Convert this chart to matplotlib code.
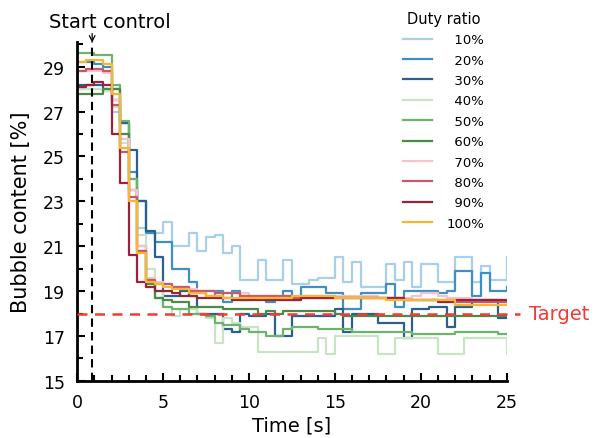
import numpy as np
import matplotlib
matplotlib.use("Agg")
import matplotlib.pyplot as plt
from matplotlib.ticker import MultipleLocator

plt.rcParams['font.family'] = ['DejaVu Sans']

# time axis: 0 .. 25 s, 0.5 s sampling
time = np.arange(0, 25.01, 0.5)

duty_labels = ["10%", "20%", "30%", "40%", "50%", "60%", "70%", "80%", "90%", "100%"]
colors = ["#a8d0e8", "#3d8fc6", "#2b5f8c", "#c9e4c4", "#6cb46c", "#4b8a47",
          "#f4c3cc", "#c9586c", "#9c2237", "#f6b730"]

d10 = [28.0, 28.0, 28.0, 27.9, 27.0, 25.8, 23.5, 21.8, 21.6, 21.6, 22.1, 21.0, 21.0, 21.6,
       20.8, 21.4, 21.5, 20.7, 21.0, 19.5, 19.5, 20.4, 19.5, 19.5, 20.4, 19.3, 19.3, 19.5,
       19.6, 19.6, 20.5, 19.4, 20.3, 19.2, 19.2, 19.2, 20.2, 19.5, 20.3, 19.2, 20.2, 20.2,
       19.4, 19.4, 20.5, 20.5, 19.4, 20.1, 19.5, 19.5, 20.5]
d20 = [29.2, 29.2, 29.1, 29.0, 28.0, 26.5, 24.3, 23.0, 21.6, 21.2, 21.2, 20.0, 20.0, 19.4,
       18.9, 18.8, 19.0, 18.5, 19.0, 18.6, 18.7, 18.7, 18.5, 18.7, 19.0, 18.6, 19.2, 19.2,
       19.2, 18.9, 18.9, 18.2, 18.2, 18.9, 18.9, 18.9, 19.3, 18.3, 19.0, 19.0, 19.0, 19.0,
       18.9, 19.0, 19.9, 19.9, 18.8, 19.8, 19.0, 19.0, 19.2]
d30 = [28.2, 28.2, 28.2, 28.0, 27.5, 26.5, 25.3, 23.0, 21.7, 20.5, 18.8, 18.8, 19.0, 18.8,
       18.0, 18.0, 18.0, 17.3, 17.2, 18.0, 17.9, 17.9, 18.0, 17.0, 17.0, 17.9, 17.9, 17.9,
       17.9, 17.9, 18.2, 17.2, 18.0, 18.0, 18.0, 17.6, 17.6, 17.6, 16.9, 18.2, 18.2, 18.3,
       18.3, 17.4, 18.3, 18.3, 18.6, 18.6, 18.6, 17.8, 17.8]
d40 = [28.0, 28.0, 28.0, 27.9, 27.2, 25.6, 24.0, 21.5, 20.0, 19.0, 18.3, 17.9, 18.2, 18.2,
       18.0, 17.8, 16.7, 17.8, 17.6, 17.4, 17.4, 16.3, 16.3, 16.3, 16.3, 16.3, 16.3, 16.3,
       16.9, 16.2, 17.0, 17.0, 17.0, 17.0, 17.0, 16.2, 16.2, 16.9, 16.9, 16.9, 16.9, 16.9,
       16.2, 16.2, 16.2, 16.9, 16.9, 16.9, 16.9, 16.9, 16.2]
d50 = [29.6, 29.6, 29.5, 29.5, 28.2, 26.6, 24.0, 21.0, 19.5, 18.7, 18.3, 18.2, 18.2, 18.0,
       18.0, 17.9, 17.6, 17.5, 17.5, 17.3, 17.2, 17.2, 17.0, 17.0, 17.3, 17.4, 17.4, 17.4,
       17.3, 17.3, 17.3, 17.3, 17.2, 17.2, 17.2, 17.2, 17.2, 17.2, 17.2, 17.1, 17.1, 17.1,
       17.1, 17.1, 17.2, 17.2, 17.2, 17.2, 17.2, 17.1, 17.1]
d60 = [27.8, 27.8, 27.8, 28.0, 28.0, 26.0, 23.5, 20.8, 19.3, 18.7, 18.6, 18.5, 18.5, 18.3,
       18.3, 18.3, 18.3, 18.2, 18.2, 18.2, 18.2, 18.0, 18.1, 18.0, 18.1, 18.1, 18.1, 18.1,
       18.1, 18.1, 18.0, 17.9, 17.9, 17.9, 17.9, 17.9, 17.9, 17.9, 17.9, 17.9, 17.9, 17.9,
       17.9, 17.9, 17.9, 17.9, 17.9, 17.9, 17.9, 17.9, 17.9]
d70 = [28.8, 28.8, 28.8, 28.7, 27.5, 25.8, 23.5, 21.0, 19.6, 19.4, 19.3, 19.2, 19.2, 19.1,
       19.0, 19.0, 18.9, 18.9, 18.9, 18.9, 18.8, 18.8, 18.8, 18.8, 18.8, 18.8, 18.8, 18.8,
       18.8, 18.8, 18.8, 18.8, 18.8, 18.8, 18.8, 18.7, 18.7, 18.7, 18.7, 18.8, 18.9, 18.9,
       18.8, 18.7, 18.7, 18.7, 18.6, 18.6, 18.6, 18.6, 18.6]
d80 = [28.8, 28.9, 28.9, 28.8, 27.3, 25.2, 23.2, 20.8, 19.5, 19.3, 19.3, 19.2, 19.2, 19.0,
       19.0, 19.0, 18.9, 18.9, 18.9, 18.8, 18.8, 18.8, 18.8, 18.8, 18.8, 18.7, 18.7, 18.7,
       18.7, 18.7, 18.7, 18.7, 18.7, 18.7, 18.7, 18.7, 18.7, 18.7, 18.6, 18.6, 18.6, 18.6,
       18.6, 18.6, 18.5, 18.5, 18.5, 18.5, 18.5, 18.5, 18.5]
d90 = [28.1, 28.2, 28.3, 28.2, 26.0, 23.8, 20.6, 19.4, 19.2, 19.0, 19.0, 18.9, 18.8, 18.8,
       18.7, 18.7, 18.7, 18.7, 18.6, 18.6, 18.6, 18.6, 18.6, 18.6, 18.6, 18.6, 18.7, 18.7,
       18.7, 18.7, 18.7, 18.7, 18.7, 18.7, 18.7, 18.7, 18.7, 18.7, 18.6, 18.6, 18.6, 18.6,
       18.5, 18.5, 18.6, 18.6, 18.6, 18.6, 18.6, 18.6, 18.6]
d100 = [29.2, 29.3, 29.3, 29.1, 27.8, 25.4, 23.0, 20.7, 19.4, 19.3, 19.2, 19.1, 19.1, 18.9,
        18.9, 18.8, 18.8, 18.7, 18.7, 18.7, 18.7, 18.7, 18.7, 18.7, 18.7, 18.8, 18.8, 18.8,
        18.8, 18.8, 18.7, 18.7, 18.7, 18.7, 18.7, 18.7, 18.6, 18.6, 18.6, 18.6, 18.6, 18.6,
        18.6, 18.6, 18.4, 18.4, 18.4, 18.4, 18.4, 18.4, 18.4]
series = [d10, d20, d30, d40, d50, d60, d70, d80, d90, d100]

start_time = 0.87
target = 18

fig = plt.figure(figsize=(5.94, 4.39), dpi=100)
ax = fig.add_axes([0.130, 0.130, 0.723, 0.772])

for vals, col, lab in zip(series, colors, duty_labels):
    # pad short labels with a figure space so numbers line up on the right
    shown = "\u2007" + lab if len(lab) < 4 else lab
    ax.plot(time, vals, drawstyle="steps-post", color=col, lw=1.6, label=shown)

ax.axvline(start_time, color="black", ls=(0, (4, 2.5)), lw=1.5)
ax.plot([0, 25.75], [target, target], color="#f03c32", ls=(0, (4, 3)), lw=1.8,
        clip_on=False, zorder=5)

ax.set_xlim(0, 25)
ax.set_ylim(15, 30.1)
ax.xaxis.set_major_locator(MultipleLocator(5))
ax.xaxis.set_minor_locator(MultipleLocator(1))
ax.yaxis.set_minor_locator(MultipleLocator(1))
ax.set_yticks(np.arange(15, 30, 2))
ax.tick_params(which="both", direction="in", width=1.5, labelsize=12.5)
ax.tick_params(which="major", length=6)
ax.tick_params(which="minor", length=4)
ax.tick_params(axis="x", pad=9)
ax.tick_params(axis="y", pad=9)
for side in ["top", "right"]:
    ax.spines[side].set_visible(False)
for side in ["left", "bottom"]:
    ax.spines[side].set_linewidth(2)

ax.set_xlabel("Time [s]", fontsize=14, labelpad=3)
ax.set_ylabel("Bubble content [%]", fontsize=15, labelpad=8)

fig.text(0.185, 0.948, "Start control", fontsize=14, ha="center", va="center")
ax.annotate("", xy=(start_time, 29.95), xytext=(start_time, 30.6),
            arrowprops=dict(arrowstyle="->", lw=0.9, color="black"),
            annotation_clip=False)
ax.text(26.3, target, "Target", color="#f03c32", fontsize=14, va="center", ha="left")

leg = ax.legend(loc="upper left", bbox_to_anchor=(0.73, 1.127), frameon=False,
                title="Duty ratio", fontsize=9.5, title_fontsize=10.5,
                handlelength=2.2, labelspacing=0.56, handletextpad=1.1)

fig.savefig("out.png", dpi=100)
